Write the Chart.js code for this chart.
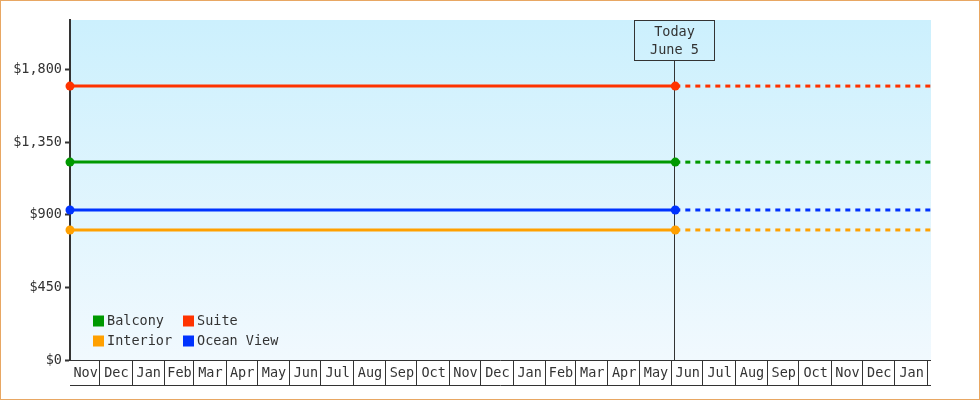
<!DOCTYPE html>
<html>
<head>
<meta charset="utf-8">
<script src="https://cdn.jsdelivr.net/npm/chart.js@4"></script>
<style>
  html, body { margin: 0; padding: 0; background: #fff; }
  #wrap { width: 980px; height: 400px; }
</style>
</head>
<body>
<div id="wrap"><canvas id="fareChart" width="980" height="400"></canvas></div>
<script>
// chart data
const startDate = '2022-11-03';
const todayDate = '2024-06-05';
const endDate = '2025-02-05';
const firstMonth = [2022, 10]; // Nov 2022
const monthLabels = ['Nov', 'Dec', 'Jan', 'Feb', 'Mar', 'Apr', 'May', 'Jun', 'Jul', 'Aug', 'Sep', 'Oct',
  'Nov', 'Dec', 'Jan', 'Feb', 'Mar', 'Apr', 'May', 'Jun', 'Jul', 'Aug', 'Sep', 'Oct', 'Nov', 'Dec', 'Jan', 'Feb'];
const seriesNames = ['Balcony', 'Suite', 'Interior', 'Ocean View'];
const seriesValues = [1228, 1700, 807, 931];
const seriesColors = ['#009900', '#ff3300', '#ffa000', '#0033ff'];
const yTicks = [0, 450, 900, 1350, 1800];
const yMax = 2110;

const DAY = 86400000;
const t0 = Date.parse(startDate);
const dayOf = s => (Date.parse(s) - t0) / DAY;
const todayX = dayOf(todayDate);
const endX = dayOf(endDate);

const datasets = [];
seriesNames.forEach((name, i) => {
  datasets.push({
    label: name,
    data: [{ x: 0, y: seriesValues[i] }, { x: todayX, y: seriesValues[i] }],
    borderColor: seriesColors[i],
    backgroundColor: seriesColors[i],
    borderWidth: 3,
    pointRadius: 4.5,
    pointBorderWidth: 0,
    clip: false
  });
  datasets.push({
    label: name + ' (future)',
    data: [{ x: todayX, y: seriesValues[i] }, { x: endX, y: seriesValues[i] }],
    borderColor: seriesColors[i],
    borderWidth: 3,
    borderDash: [5, 5],
    pointRadius: 0
  });
});

const ink = '#333333';
const fontCss = '13.5px "DejaVu Sans Mono"';

// gradient background, border, month boxes, today marker, legend
const decor = {
  id: 'decor',
  beforeDraw(chart) {
    const { ctx, chartArea: a } = chart;
    const g = ctx.createLinearGradient(0, a.top, 0, a.bottom);
    g.addColorStop(0, '#ccf0fd');
    g.addColorStop(1, '#f1f9fe');
    ctx.save();
    ctx.fillStyle = g;
    ctx.fillRect(a.left, a.top, a.right - a.left, a.bottom - a.top);
    ctx.restore();
  },
  beforeDatasetsDraw(chart) {
    const { ctx, chartArea: a } = chart;
    // today line + label box
    const tx = Math.round(chart.scales.x.getPixelForValue(todayX)) - 0.5;
    ctx.save();
    ctx.strokeStyle = ink;
    ctx.lineWidth = 1;
    ctx.beginPath();
    ctx.moveTo(tx, 61);
    ctx.lineTo(tx, a.bottom);
    ctx.stroke();
    ctx.strokeRect(tx - 40, 20.5, 80, 40);
    ctx.fillStyle = ink;
    ctx.font = fontCss;
    ctx.textAlign = 'center';
    ctx.textBaseline = 'middle';
    ctx.fillText('Today', tx, 32.5);
    ctx.fillText('June 5', tx, 50);
    ctx.restore();
  },
  afterDraw(chart) {
    const { ctx, chartArea: a } = chart;
    const xs = chart.scales.x;
    ctx.save();
    ctx.strokeStyle = '#e8a763';
    ctx.lineWidth = 1;
    ctx.strokeRect(0.5, 0.5, 979, 399);

    // month boxes under the plot
    const top = a.bottom + 0.5, bot = 385.5;
    ctx.strokeStyle = ink;
    ctx.beginPath();
    ctx.moveTo(a.left, top); ctx.lineTo(a.right, top);
    ctx.moveTo(a.left, bot); ctx.lineTo(a.right, bot);
    ctx.font = fontCss;
    ctx.fillStyle = ink;
    ctx.textAlign = 'center';
    ctx.textBaseline = 'middle';
    monthLabels.forEach((lab, i) => {
      const s = (Date.UTC(firstMonth[0], firstMonth[1] + i, 1) - t0) / DAY;
      const e = (Date.UTC(firstMonth[0], firstMonth[1] + i + 1, 1) - t0) / DAY;
      const vs = Math.max(s, 0), ve = Math.min(e, endX);
      if (ve - vs < 15) return;
      const p0 = xs.getPixelForValue(vs), p1 = xs.getPixelForValue(ve);
      if (e <= endX) {
        const px = Math.round(p1) + 0.5;
        ctx.moveTo(px, top); ctx.lineTo(px, bot);
      }
      ctx.fillText(lab, (p0 + p1) / 2 + 1, 373);
    });
    ctx.stroke();

    // legend inside the plot, two columns
    const cols = [93, 183];
    const rows = [320.5, 340.5];
    seriesNames.forEach((name, i) => {
      const cx = cols[i % 2], cy = rows[Math.floor(i / 2)];
      ctx.fillStyle = seriesColors[i];
      ctx.fillRect(cx, cy - 5, 11, 11);
      ctx.fillStyle = ink;
      ctx.textAlign = 'left';
      ctx.fillText(name, cx + 14, cy + 1);
    });
    ctx.restore();
  }
};

Chart.defaults.font.family = '"DejaVu Sans Mono"';
Chart.defaults.font.size = 13.5;
Chart.defaults.color = ink;

new Chart(document.getElementById('fareChart'), {
  type: 'line',
  data: { datasets },
  options: {
    responsive: false,
    animation: false,
    devicePixelRatio: 1,
    layout: { padding: { top: 20, right: 49, left: 0, bottom: 0 } },
    plugins: { legend: { display: false }, tooltip: { enabled: false } },
    scales: {
      x: {
        type: 'linear',
        min: 0,
        max: endX,
        grid: { display: false },
        border: { display: false },
        ticks: { display: false },
        afterFit: s => { s.height = 40; }
      },
      y: {
        min: 0,
        max: yMax,
        afterBuildTicks: s => { s.ticks = yTicks.map(v => ({ value: v })); },
        ticks: {
          padding: 3,
          callback: v => '$' + v.toLocaleString('en-US')
        },
        grid: { drawOnChartArea: false, drawTicks: true, tickLength: 5, tickWidth: 2, color: ink },
        border: { display: true, color: ink, width: 2 },
        afterFit: s => { s.width = 70; }
      }
    }
  },
  plugins: [decor]
});
</script>
</body>
</html>
